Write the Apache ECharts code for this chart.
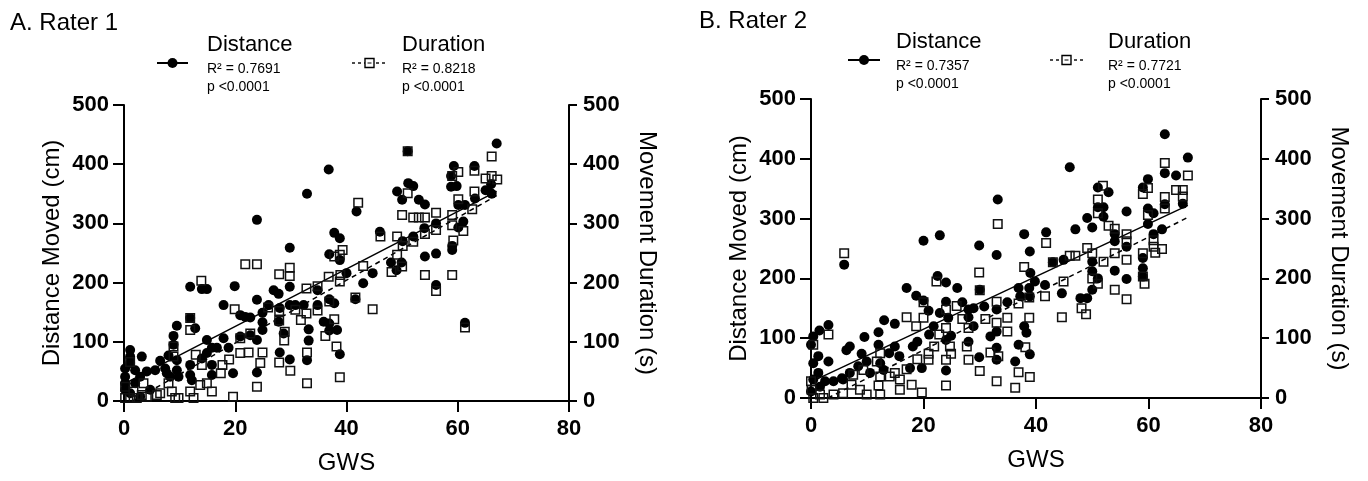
<!DOCTYPE html>
<html><head><meta charset="utf-8">
<script src="https://cdn.jsdelivr.net/npm/echarts@6/dist/echarts.min.js"></script>
<style>html,body{margin:0;padding:0;background:#fff}#c{width:1368px;height:481px}</style>
</head><body><div id="c"></div>
<script>
// ---------------- data ----------------
const panelTitles = ['A. Rater 1', 'B. Rater 2'];
const seriesNames = ['Distance', 'Duration'];
const r2A = ['R\u00B2 = 0.7691', 'R\u00B2 = 0.8218'];
const r2B = ['R\u00B2 = 0.7357', 'R\u00B2 = 0.7721'];
const pText = 'p <0.0001';
const xName = 'GWS';
const yLeftName = 'Distance Moved (cm)';
const yRightName = 'Movement Duration (s)';
const xRange = [0, 80, 20];
const yRange = [0, 500, 100];

// Rater 1 – distance moved (cm) vs GWS
const distA = [[36.8,391],[32.9,350],[23.9,306],[29.8,259],[37.8,284],[38.8,275],[36.9,248],[38.8,238],[41.8,320],
[11.9,193],[14.0,189],[14.9,189],[19.9,194],[23.9,171],[17.9,162],[26.9,187],[27.8,181],[29.8,193],[26.0,162],
[20.9,145],[21.8,142],[22.7,141],[24.9,149],[24.9,133],[28.0,157],[29.8,162],[30.8,162],[32.3,162],[34.8,187],[34.8,162],
[36.9,172],[37.8,165],[35.9,134],[36.9,131],[38.3,120],[36.9,119],[33.2,121],[33.2,102],[32.9,69],[29.8,70],[28.0,82],[28.7,114],[27.8,134],[38.8,79],
[23.9,48],[24.9,120],[23.9,103],[22.7,111],[20.9,109],[19.6,47],[17.9,106],[18.8,90],[16.7,90],[14.9,103],[15.8,90],[14.9,81],[14.0,72],[15.8,61],[15.8,44],
[11.9,61],[11.9,44],[12.2,35],[12.8,123],[11.9,140],[9.5,127],[8.9,110],[8.9,95],[8.0,77],[6.5,68],[9.5,69],[9.5,52],[9.8,41],[8.3,41],[7.4,55],[5.6,52],[4.1,50],[3.2,75],[1.1,86],[0.2,55],[0.2,41],[1.1,64],[2.0,52],[2.0,30],[0.2,19],[1.1,13],[2.9,7],[0.2,30],[2.9,41],[4.7,19],[1.1,75],[7.7,47],
[67.0,435],[59.3,397],[63.0,397],[58.8,380],[59.8,363],[58.8,362],[51.1,368],[52.0,363],[49.1,354],[50.0,340],[53.0,340],[54.1,332],[60.1,331],[61.3,331],[63.1,342],[65.0,356],[66.0,366],[66.1,350],
[46.0,286],[56.1,300],[54.0,292],[60.1,293],[61.0,303],[50.1,270],[52.0,278],[59.0,262],[59.0,255],[54.1,244],[56.1,249],[48.0,234],[49.9,234],[49.0,221],[40.0,216],[44.7,216],[43.0,199],[56.1,196],[61.3,132],[41.6,172],[51.0,422]];

// Rater 1 – movement duration (s) vs GWS
const durA = [[39.3,255],[38.8,247],[37.8,244],[38.8,202],[38.9,213],[36.8,210],[34.8,194],[32.8,190],[29.8,225],[29.8,211],[27.9,214],[21.8,231],[23.9,231],[13.9,203],[19.9,155],[25.9,158],[30.8,154],[31.8,137],[32.8,148],[34.8,153],[36.9,168],[37.8,138],[36.2,110],[38.2,92],[38.8,40],[32.9,82],[32.9,30],[29.9,51],[27.9,65],[28.8,102],[28.9,117],[27.9,136],[27.9,152],[24.9,82],[24.5,64],[23.9,24],[22.7,114],[22.4,82],[20.9,81],[20.9,106],[18.9,70],[17.7,61],[17.4,47],[19.6,7],[15.8,16],[14.9,30],[13.7,27],[14.0,61],[12.9,78],[11.9,120],[11.9,140],[8.9,92],[8.9,75],[8.0,30],[6.5,13],[5.9,10],[4.1,7],[9.8,5],[11.9,16],[12.5,5],[1.1,66],[0.2,24],[1.1,5],[0.2,5],[2.3,5],[3.2,10],[3.5,30],[1.7,16],[8.6,16],[9.2,5],
[51.0,422],[66.1,413],[60.1,387],[63.0,389],[59.0,380],[65.0,376],[66.1,380],[67.1,374],[51.0,351],[42.1,335],[63.0,354],[60.1,341],[50.0,314],[52.0,310],[53.0,310],[54.1,310],[56.1,318],[59.0,314],[62.6,324],[59.0,297],[61.0,287],[56.1,289],[54.1,282],[52.0,269],[50.1,262],[49.1,278],[59.2,271],[49.1,247],[46.1,278],[43.0,228],[50.0,227],[48.1,218],[54.1,213],[59.0,213],[56.1,186],[41.6,175],[44.7,155],[61.3,124]];

// Rater 2 – distance moved (cm) vs GWS
const distB = [[33.2,332],[20.0,263],[22.9,272],[29.9,255],[33.0,239],[37.9,274],[38.9,245],[41.8,277],[5.9,223],[22.5,204],[24.0,193],[17.0,184],[18.7,171],[20.0,163],[26.0,184],[30.0,181],[24.0,161],[26.9,160],[20.9,146],[21.8,120],[21.0,106],[22.9,142],[24.4,134],[28.0,148],[28.9,150],[30.8,153],[28.0,135],[28.9,120],[33.0,148],[34.9,160],[36.9,184],[38.8,184],[39.8,195],[38.9,170],[41.6,189],[37.2,170],[33.0,111],[31.9,103],[37.9,120],[38.3,109],[36.9,89],[38.9,73],[36.3,61],[33.0,84],[33.0,64],[29.9,68],[28.0,94],[24.9,104],[24.0,97],[24.0,46],[18.9,94],[18.1,86],[14.9,124],[13.0,130],[12.0,110],[12.0,89],[9.5,102],[6.9,86],[6.3,80],[14.9,86],[13.9,75],[15.7,70],[17.6,50],[19.7,50],[9.0,74],[9.9,61],[12.3,58],[12.9,47],[6.9,42],[5.5,33],[3.1,122],[1.5,113],[0.4,103],[0,89],[1.3,70],[3.1,61],[0.4,58],[1.3,42],[0.4,31],[2.5,28],[4.0,28],[1.6,19],[0,11],[10.5,42],[8.4,53],[5.7,31],
[62.9,441],[67.0,402],[62.9,376],[64.9,372],[59.9,366],[59.0,352],[46.0,386],[51.0,352],[52.9,344],[51.0,319],[52.0,319],[52.0,303],[49.1,301],[47.0,282],[50.0,285],[56.1,312],[59.9,317],[60.9,309],[62.9,324],[66.1,325],[59.9,291],[62.4,282],[60.9,274],[54.0,274],[54.0,262],[56.1,253],[44.9,231],[43.0,227],[50.0,228],[50.0,212],[51.0,200],[54.0,213],[56.1,199],[59.0,234],[59.0,217],[59.0,203],[39.0,209],[44.6,175],[47.9,167],[49.1,167],[50.0,181]];

// Rater 2 – movement duration (s) vs GWS
const durB = [[33.2,291],[5.9,242],[29.9,210],[37.9,219],[41.8,259],[22.3,195],[30.0,180],[20.0,160],[25.9,154],[17.0,135],[18.7,120],[20.0,134],[24.0,148],[26.9,132],[28.0,117],[31.0,132],[33.0,161],[33.0,126],[34.9,134],[34.9,111],[36.9,158],[38.8,134],[38.8,168],[41.6,170],[38.1,85],[24.0,117],[22.8,106],[21.9,86],[24.7,86],[24.9,74],[24.0,64],[27.7,86],[28.0,64],[30.0,45],[31.9,76],[33.3,70],[33.0,28],[36.9,43],[38.9,35],[36.3,17],[24.0,21],[20.9,74],[20.9,64],[18.9,65],[19.7,9],[17.9,22],[15.8,14],[17.0,48],[14.9,42],[15.8,31],[14.0,36],[12.3,36],[12.0,21],[12.3,6],[9.9,6],[8.7,14],[7.2,22],[5.7,8],[4.0,6],[2.2,0],[0.4,0],[3.1,106],[0.4,89],[0,28],[0.1,14],[1.6,6],[11.7,61],[12.3,75],[7.5,39],[9.3,47],
[62.9,393],[67.0,372],[64.9,348],[66.1,348],[66.1,337],[51.9,355],[51.0,332],[51.0,309],[59.0,341],[59.9,351],[62.9,336],[62.9,317],[59.9,306],[52.9,288],[54.0,283],[56.1,274],[56.1,262],[60.9,264],[60.9,253],[62.4,249],[61.2,243],[59.0,242],[59.0,203],[59.3,191],[54.0,242],[56.1,231],[52.0,228],[49.1,251],[50.0,242],[47.0,238],[46.0,238],[43.0,227],[50.0,200],[51.0,191],[54.0,181],[56.1,165],[44.9,195],[48.1,150],[48.9,140],[44.6,135]];

// regression lines (end points)
const fitDistA = [[0,29],[67,354]];
const fitDurA  = [[1.5,0],[67,347]];
const fitDistB = [[0,27],[67,322]];
const fitDurB  = [[3,0],[67,302]];

// ---------------- chart ----------------
const FONT = '"Liberation Sans", Arial, sans-serif';
const grids = [
  {left:124, top:105, width:445, height:296},
  {left:811, top:99,  width:450, height:299}
];
function xAx(i){
  return {type:'value', gridIndex:i, min:xRange[0], max:xRange[1], interval:xRange[2],
    name:xName, nameLocation:'middle', nameGap:50,
    nameTextStyle:{fontFamily:FONT, fontSize:24, color:'#000'},
    axisLine:{lineStyle:{color:'#000', width:2}},
    axisTick:{length:11, lineStyle:{color:'#000', width:2}},
    axisLabel:{fontFamily:FONT, fontSize:22, fontWeight:'bold', color:'#000', margin:17},
    splitLine:{show:false}};
}
function yAx(i, pos){
  const left = pos === 'left';
  return {type:'value', gridIndex:i, position:pos, min:yRange[0], max:yRange[1], interval:yRange[2],
    name: left ? yLeftName : yRightName, nameLocation:'middle', nameRotate: left ? 90 : -90,
    nameGap: left ? 60 : 66,
    nameTextStyle:{fontFamily:FONT, fontSize:24, color:'#000'},
    axisLine:{show:true, lineStyle:{color:'#000', width:2}},
    axisTick:{show:true, length: left ? 11 : 8, lineStyle:{color:'#000', width:2}},
    axisLabel:{fontFamily:FONT, fontSize:22, fontWeight:'bold', color:'#000', margin: left ? 15 : 14},
    splitLine:{show:false}};
}
function fitLine(data, xi, yi, dashed){
  return {type:'line', xAxisIndex:xi, yAxisIndex:yi, data:data, symbol:'none', silent:true,
    lineStyle:{color:'#000', width:1.5, type: dashed ? [5,4] : 'solid'}, z:2};
}
function circles(data, xi, yi){
  return {type:'scatter', xAxisIndex:xi, yAxisIndex:yi, data:data, symbol:'circle', symbolSize:10,
    itemStyle:{color:'#000', opacity:1}, z:3};
}
function squares(data, xi, yi){
  return {type:'scatter', xAxisIndex:xi, yAxisIndex:yi, data:data, symbol:'rect', symbolSize:8.5,
    itemStyle:{color:'rgba(0,0,0,0)', borderColor:'#111', borderWidth:1.5, opacity:1}, z:4};
}

function legendGroup(x0, y0, iconW, textX, name, r2, dashed){
  const els = [];
  els.push({type:'line', shape:{x1:x0, y1:y0, x2:x0+iconW, y2:y0},
    style:{stroke:'#000', lineWidth: dashed ? 1.4 : 2, lineDash: dashed ? [3,3] : null}});
  if (dashed) {
    els.push({type:'rect', shape:{x:x0+iconW/2-4.5, y:y0-4.5, width:9, height:9},
      style:{fill:'#fff', stroke:'#000', lineWidth:1.4}});
    els.push({type:'line', shape:{x1:x0+iconW/2-2, y1:y0, x2:x0+iconW/2+2, y2:y0},
      style:{stroke:'#000', lineWidth:1}});
  } else {
    els.push({type:'circle', shape:{cx:x0+iconW/2, cy:y0, r:5}, style:{fill:'#000'}});
  }
  els.push({type:'text', x:textX, y:y0-18, style:{text:name, font:'22px '+FONT, fill:'#000', verticalAlign:'middle'}});
  els.push({type:'text', x:textX, y:y0+6, style:{text:r2, font:'14px '+FONT, fill:'#000', verticalAlign:'middle'}});
  els.push({type:'text', x:textX, y:y0+24, style:{text:pText, font:'14px '+FONT, fill:'#000', verticalAlign:'middle'}});
  return els;
}

const graphics = [
  {type:'text', x:10, y:23, style:{text:panelTitles[0], font:'24px '+FONT, fill:'#000', verticalAlign:'middle'}},
  {type:'text', x:699, y:21, style:{text:panelTitles[1], font:'24px '+FONT, fill:'#000', verticalAlign:'middle'}},
  ...legendGroup(157, 63, 31, 207, seriesNames[0], r2A[0], false),
  ...legendGroup(352, 63, 35, 402, seriesNames[1], r2A[1], true),
  ...legendGroup(848, 60, 32, 896, seriesNames[0], r2B[0], false),
  ...legendGroup(1050, 60, 33, 1108, seriesNames[1], r2B[1], true)
];

const chart = echarts.init(document.getElementById('c'), null, {renderer:'canvas'});
chart.setOption({
  animation:false,
  backgroundColor:'#fff',
  grid:grids,
  xAxis:[xAx(0), xAx(1)],
  yAxis:[yAx(0,'left'), yAx(0,'right'), yAx(1,'left'), yAx(1,'right')],
  series:[
    fitLine(fitDistA,0,0,false), fitLine(fitDurA,0,1,true),
    circles(distA,0,0), squares(durA,0,1),
    fitLine(fitDistB,1,2,false), fitLine(fitDurB,1,3,true),
    circles(distB,1,2), squares(durB,1,3)
  ],
  graphic:graphics
});
</script></body></html>
